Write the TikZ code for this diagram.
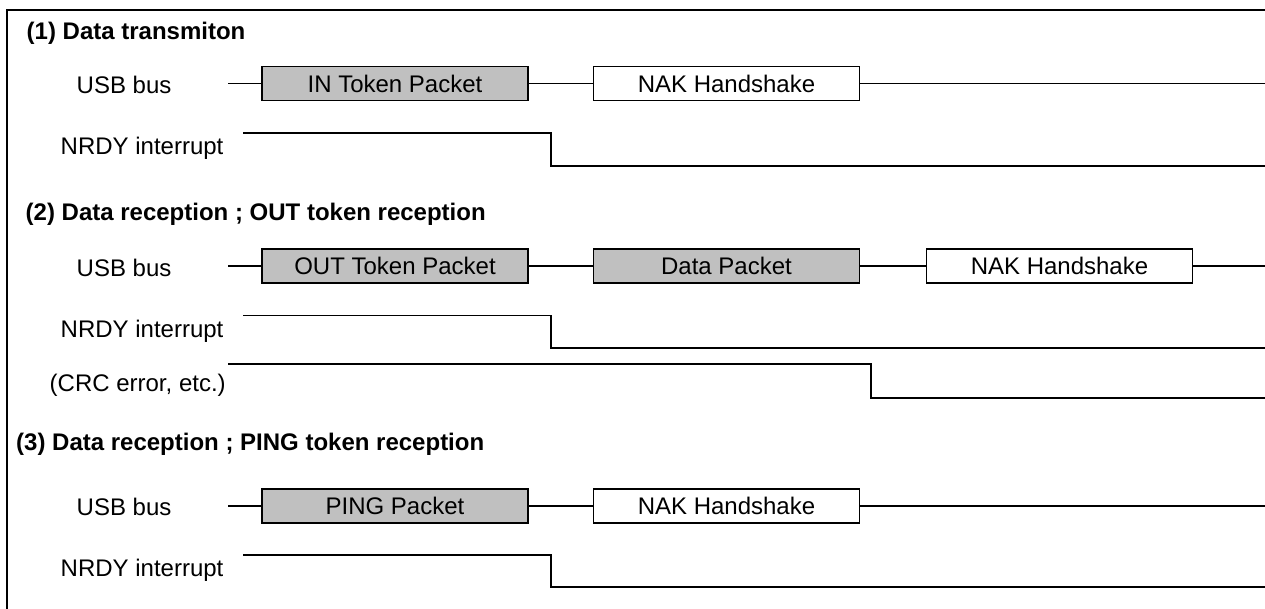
\documentclass[tikz,border=0pt]{standalone}
\usepackage{fontspec}
\setmainfont{Liberation Sans}
\definecolor{pktgray}{RGB}{192,192,192}
\begin{document}
\begin{tikzpicture}[x=0.5pt,y=-0.5pt,line width=0.7pt,
  pkt/.style={draw,minimum width=133pt,minimum height=17pt,inner sep=0pt,font=\fontsize{12}{14}\selectfont},
  tok/.style={pkt,fill=pktgray},
  lbl/.style={anchor=west,inner sep=0pt,font=\fontsize{12}{14}\selectfont},
  ttl/.style={lbl,font=\fontsize{12}{14}\selectfont\bfseries}]
\useasboundingbox (0,0) rectangle (1265,609);
\draw[line width=1pt](7,609)--(7,10)--(1265,10);
% (1) transmit
\node[ttl] (t1) at (26,33) {(1) Data transmiton};
\node[lbl] (usb1) at (76,85) {USB bus};
\node[tok] (in1) at (395,83.5) {IN Token Packet};
\node[pkt] (nak1) at (726.5,83.5) {NAK Handshake};
\coordinate (b1s) at (228,83.5);
\coordinate (b1e) at (1265,83.5);
\draw (b1s)--(in1)--(nak1)--(b1e);
\node[lbl] (nrdy1) at (60,148) {NRDY interrupt};
\draw (243,133)--(551,133)--(551,166)--(1265,166);
% (2) OUT token
\node[ttl] (t2) at (25,214) {(2) Data reception ; OUT token reception};
\node[lbl] (usb2) at (76,268) {USB bus};
\node[tok] (out2) at (395,266) {OUT Token Packet};
\node[tok] (dat2) at (726.5,266) {Data Packet};
\node[pkt] (nak2) at (1059.5,266) {NAK Handshake};
\coordinate (b2s) at (228,266);
\coordinate (b2e) at (1265,266);
\draw (b2s)--(out2)--(dat2)--(nak2)--(b2e);
\node[lbl] (nrdy2) at (60,331) {NRDY interrupt};
\draw (243,315.5)--(551,315.5)--(551,348)--(1265,348);
\node[lbl] (crc2) at (49,385) {(CRC error, etc.)};
\draw (228,364)--(871,364)--(871,398)--(1265,398);
% (3) PING token
\node[ttl] (t3) at (15.5,444) {(3) Data reception ; PING token reception};
\node[lbl] (usb3) at (76,507) {USB bus};
\node[tok] (ping3) at (395,506) {PING Packet};
\node[pkt] (nak3) at (726.5,506) {NAK Handshake};
\coordinate (b3s) at (228,506);
\coordinate (b3e) at (1265,506);
\draw (b3s)--(ping3)--(nak3)--(b3e);
\node[lbl] (nrdy3) at (60,570) {NRDY interrupt};
\draw (243,555)--(551,555)--(551,587)--(1265,587);
\end{tikzpicture}
\end{document}
